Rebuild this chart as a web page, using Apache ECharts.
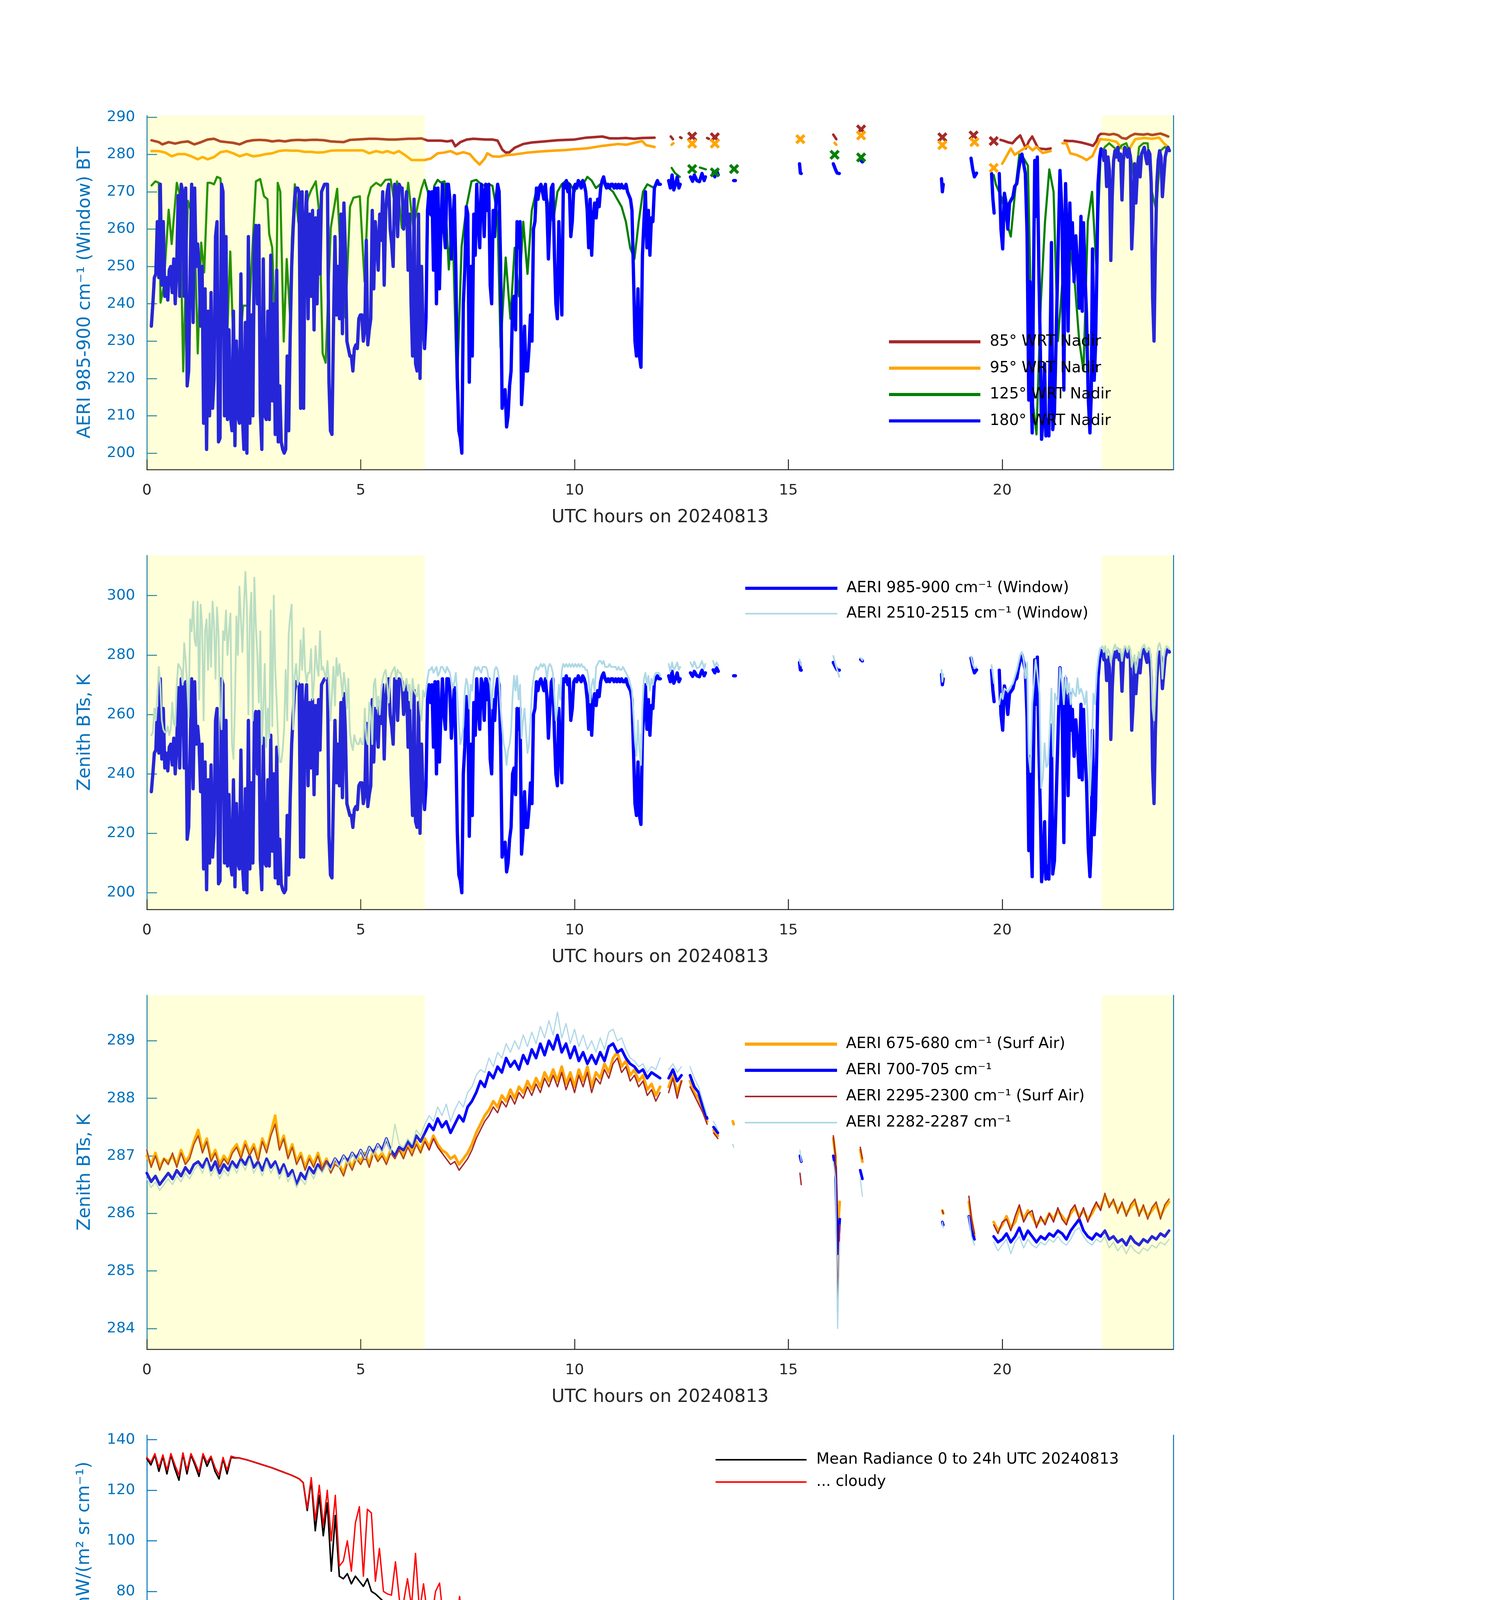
<!DOCTYPE html>
<html><head><meta charset="utf-8">
<script src="https://cdn.jsdelivr.net/npm/echarts@6/dist/echarts.min.js"></script>
<style>html,body{margin:0;padding:0;background:#fff}#c{width:3825px;height:6000px}</style>
</head><body><div id="c"></div>
<script>
// ===================== DATA =====================
// Shaded (night) time ranges, UTC hours
const shadeRanges = [[0, 6.5], [22.33, 24]];

// ---- Panel 1 & 2 : AERI 985-900 cm-1 window BT (180 deg WRT nadir) ----
// regularly sampled block 0.105 h .. 12.02 h
const win985T0 = 0.105, win985Dt = 0.0349;
const win985 = [
234,240,247,248,262,247,272,245,262,242,247,241,249,250,243,252,240,250,269,242,272,270,242,271,
218,222,248,272,235,271,250,256,250,234,250,208,244,201,238,210,243,212,220,258,262,203,204,272,
270,210,258,209,233,210,206,238,202,230,210,208,248,210,201,235,200,258,208,237,210,258,261,240,
261,211,201,252,210,209,238,209,253,214,240,205,249,203,218,203,201,200,201,226,206,231,250,260,
268,271,271,270,212,270,212,262,270,236,264,242,265,233,263,240,265,248,270,271,272,272,272,219,
206,205,233,258,237,250,236,264,232,267,254,230,228,226,226,222,228,229,228,236,237,237,230,233,
257,229,233,236,265,244,262,257,249,264,257,270,245,265,270,272,260,256,250,272,271,258,272,271,
271,260,265,270,249,264,240,226,268,224,222,264,220,250,234,228,236,265,270,264,270,249,271,240,
271,244,260,272,260,255,272,272,268,252,262,269,249,220,206,204,200,240,249,266,264,219,250,226,
264,253,272,262,255,272,270,258,272,265,272,245,240,265,258,268,272,270,250,212,216,217,207,210,
218,222,240,242,233,262,255,262,213,220,234,222,222,228,237,230,260,262,271,268,271,272,270,268,
272,266,252,262,271,272,254,240,236,262,248,237,272,271,273,270,272,258,262,271,272,271,273,272,
271,273,272,270,265,255,268,253,263,267,263,268,266,271,273,274,272,271,272,271,272,272,271,272,
271,272,271,272,271,271,272,270,269,268,265,248,230,226,244,226,223,253,262,270,255,265,253,263,
262,271,272,273,272,272];
// irregular afternoon pieces [hour, BT] (null = gap)
const win985Late = [
[12.20,273],[12.24,271],[12.28,274.5],[12.32,270.5],[12.36,272],[12.40,274],[12.44,271],[12.47,272],[12.55,null],
[12.71,274],[12.76,272.8],[12.80,274.5],[12.86,273],[12.92,272.7],[12.98,274.9],[13.03,273],[13.06,274],[13.15,null],
[13.24,275],[13.28,274],[13.32,275.7],[13.36,274.5],[13.5,null],
[13.72,273],[13.76,273],[14.5,null],
[15.26,277.5],[15.28,275],[15.30,274.9],[15.7,null],
[16.05,277.5],[16.10,276],[16.14,275],[16.19,274.9],[16.4,null],
[16.69,278.5],[16.73,278],[17.5,null],
[18.58,273.5],[18.60,270],[18.62,272],[19.0,null],
[19.27,279],[19.31,276],[19.35,274],[19.40,275],[19.6,null],
[19.75,274.9],[19.78,268.3],[19.81,264.3],[19.87,null],
[19.93,274.9],[19.97,260],[20.01,254.7],[20.05,269.6],[20.09,267],[20.13,260],[20.17,267],[20.25,268.7],[20.29,271.4],[20.34,272.2],
[20.38,275.7],[20.42,278.4],[20.46,280.1],[20.50,277.5],[20.54,274.9],[20.58,259],[20.62,214.2],[20.65,245.9],[20.68,214.2],[20.70,205.4],
[20.73,245.9],[20.76,278.4],[20.79,263.4],[20.82,279.3],[20.86,245.9],[20.89,228.3],[20.92,203.7],[20.96,210.7],[20.99,223.9],[21.02,204.6],
[21.05,209],[21.09,204.6],[21.12,228.3],[21.15,256.4],[21.18,206.3],[21.22,210.7],[21.31,256.4],[21.35,275.7],[21.40,263.4],[21.44,216.9],
[21.48,272.2],[21.52,254.7],[21.54,232.7],[21.58,267],[21.61,254.7],[21.64,261.7],[21.68,245.9],[21.72,258.2],[21.76,250.3],[21.80,238.8],
[21.84,263.4],[21.87,238],[21.90,261.7],[21.93,249.4],[21.97,237.1],[22.01,215.1],[22.05,205.4],[22.08,215.1],[22.11,254.7],[22.15,219.5],
[22.18,228.3],[22.21,247.6],[22.24,272.2],[22.28,279.3]];
// regularly sampled evening block 22.31 h .. 23.91 h
const win985EndT0 = 22.31, win985EndDt = 0.0326;
const win985End = [281.5,281,278.4,281,271.4,279.3,275.7,251.6,268.7,278.4,281,279.3,281.9,278.4,280.1,267.8,278.4,281.9,281,279.3,
281.5,279.3,254.7,263.4,277.5,267,274.9,279.3,274,280.1,281,281.9,279.3,277.5,281,280.1,272.2,241.5,230,254.7,
272.2,278.4,281,279.3,268.7,274,279.3,281,281.9,281];

// ---- Panel 2 : AERI 2510-2515 cm-1 window BT ----
const win2510 = [
253,254,262,258,266,276,270,258,255,254,254,256,253,255,264,257,256,270,277,276,275,270,284,278,
270,259,292,288,298,285,283,298,265,297,290,258,288,292,275,294,276,298,290,272,296,287,262,255,
288,285,295,280,288,294,250,245,263,293,280,303,292,281,296,308,296,260,292,301,258,306,290,280,
264,288,250,262,277,249,262,252,295,256,300,275,264,250,244,244,248,256,275,258,287,293,297,255,
273,277,270,272,285,275,289,275,271,274,274,282,265,271,283,276,273,288,275,276,274,272,278,270,
258,267,276,263,279,273,277,272,266,274,270,262,272,254,250,248,253,251,250,250,252,250,250,262,
252,250,264,262,250,270,272,262,266,260,268,272,274,275,270,264,272,274,275,276,272,275,274,274,
272,268,270,272,268,270,262,272,268,267,266,270,262,258,268,266,268,272,275,275,276,274,275,276,
273,274,276,276,275,274,276,275,274,271,269,271,274,266,257,250,252,256,268,272,270,262,270,268,
274,276,275,276,275,274,276,276,276,275,272,270,262,270,275,276,275,272,262,256,250,248,243,248,
250,254,266,273,268,273,265,270,252,258,262,254,247,250,258,268,272,275,276,275,276,277,276,277,
276,272,276,277,276,274,266,258,262,270,265,275,277,276,277,276,277,276,277,276,277,276,277,276,
277,276,276,275,275,272,264,270,272,268,276,277,278,278,277,278,276,276,276,277,276,276,276,276,
275,276,275,275,276,275,274,273,272,270,268,260,251,246,258,248,243,262,272,274,270,273,268,272,
270,273,274,274,274,273];
const win2510Late = [
[12.20,277],[12.24,274.5],[12.28,277.5],[12.32,275],[12.36,276],[12.40,277.5],[12.44,275],[12.47,276],[12.55,null],
[12.71,277.5],[12.76,276],[12.80,277.8],[12.86,275.5],[12.92,276],[12.98,278],[13.03,275.5],[13.06,277],[13.15,null],
[13.24,278],[13.28,276],[13.32,277.5],[13.36,276.5],[13.5,null],
[15.26,278.5],[15.28,277],[15.30,276.5],[15.7,null],
[16.05,279.7],[16.10,277],[16.14,275],[16.19,272.7],[16.4,null],
[16.69,279],[16.73,278.2],[17.5,null],
[18.58,275],[18.60,271],[18.62,273.5],[19.0,null],
[19.27,279.5],[19.31,277],[19.35,275.5],[19.40,276],[19.6,null],
[19.75,276.6],[19.81,270.5],[19.87,null],
[19.93,263.4],[19.97,267],[20.01,265.2],[20.05,268.7],[20.13,267.8],[20.25,270.5],[20.34,274.9],[20.42,280.1],[20.46,281],[20.50,278.4],
[20.54,272.2],[20.58,277.5],[20.62,245.9],[20.66,240.6],[20.70,263.4],[20.74,270.5],[20.78,278.4],[20.82,274],[20.87,267],[20.91,235.3],
[20.95,238.8],[20.99,250.3],[21.03,242.3],[21.07,243.2],[21.11,254.7],[21.15,268.7],[21.19,245.9],[21.23,267],[21.31,263.4],[21.35,275.7],
[21.40,270.5],[21.44,263.4],[21.48,273.1],[21.52,267],[21.56,270.5],[21.60,263.4],[21.64,268.7],[21.68,267],[21.72,266.1],[21.76,272.2],
[21.80,267],[21.84,268.7],[21.88,267],[21.93,263.4],[21.97,267.8],[22.01,254.7],[22.05,232.7],[22.09,245.9],[22.13,267],[22.17,263.4],
[22.21,274],[22.25,279.3],[22.29,282.3]];
const win2510End = [282.3,283,281,283,279,282,281,277.5,280,282,283.5,282,282.5,281,282,278,281,283,282.5,281,
283,282,276,278,280,274,277,281,279,282,283,283.5,282,281,282.5,282,278,262,258,268,
279,283,284,282,272,279,282,283,282.5,282];

// ---- Panel 1 : other view angles [hour, BT] ----
const bt85 = [
[0.11,283.8],[0.28,283.3],[0.36,282.7],[0.51,283.3],[0.66,282.9],[0.81,283.3],[0.96,283.5],[1.11,282.7],[1.27,283.3],[1.42,284.0],
[1.57,284.2],[1.72,283.5],[1.87,283.3],[2.02,283.1],[2.17,282.7],[2.33,283.5],[2.48,283.8],[2.63,283.9],[2.78,283.8],[2.93,283.5],
[3.08,283.7],[3.23,283.5],[3.39,283.8],[3.54,283.9],[3.69,283.8],[3.84,283.9],[3.99,283.9],[4.14,283.8],[4.30,283.5],[4.45,283.4],
[4.60,283.3],[4.75,283.9],[4.90,284.0],[5.05,284.1],[5.20,284.2],[5.36,284.2],[5.51,284.1],[5.66,284.0],[5.81,284.0],[5.96,284.1],
[6.11,284.2],[6.27,284.2],[6.42,284.3],[6.57,283.7],[6.72,283.7],[6.87,283.7],[7.02,283.5],[7.14,283.7],[7.21,282.2],[7.33,283.3],
[7.48,284.0],[7.63,284.2],[7.78,284.1],[7.93,284.0],[8.08,284.0],[8.20,283.7],[8.31,281.3],[8.39,280.5],[8.48,280.6],[8.6,281.8],
[8.8,282.8],[9.0,283.2],[9.3,283.5],[9.6,283.8],[10.0,284.0],[10.27,284.5],[10.65,284.8],[10.83,284.3],[11.02,284.3],[11.2,284.4],
[11.39,284.2],[11.58,284.4],[11.87,284.5],[12.0,null],
[12.25,284.8],[12.30,284.1],[12.38,null],[12.47,284.6],[12.50,284.4],[12.6,null],[12.75,284.8],[12.9,null],[13.1,284.4],[13.14,284.2],[13.2,null],
[13.28,284.6],[13.4,null],[16.05,285.3],[16.12,284.1],[16.3,null],[16.70,286.7],[16.9,null],[18.6,284.6],[18.9,null],[19.33,285.1],[19.5,null],
[19.8,283.6],[19.9,null],
[19.96,283.9],[20.05,283.6],[20.15,283.2],[20.24,283.0],[20.33,284.2],[20.42,285.1],[20.5,283],[20.55,281.6],[20.62,283.5],[20.7,284.8],
[20.78,283],[20.84,281.6],[20.93,281.5],[21.02,281.4],[21.13,281.6],[21.3,null],
[21.46,283.7],[21.55,283.6],[21.65,283.6],[21.75,283.4],[21.85,283.2],[21.95,282.9],[22.05,282.6],[22.12,282.3],[22.2,283.5],[22.25,285],
[22.3,285.5],[22.4,285.5],[22.5,285.3],[22.6,285.5],[22.7,285.2],[22.8,284.4],[22.9,284.2],[23.0,285],[23.1,285.5],[23.2,285.4],
[23.3,285.3],[23.4,285.5],[23.5,285.2],[23.6,285.4],[23.7,285.6],[23.8,285.2],[23.88,284.8]];
const bt95 = [
[0.11,280.9],[0.28,280.9],[0.43,280.5],[0.58,279.5],[0.73,280.1],[0.89,280.1],[1.04,279.5],[1.19,278.7],[1.30,279.3],[1.42,278.7],
[1.57,279.3],[1.72,280.6],[1.87,280.9],[2.02,280.3],[2.17,279.5],[2.33,280.1],[2.48,279.5],[2.63,279.7],[2.78,280.1],[2.93,280.3],
[3.08,280.9],[3.23,281.1],[3.39,281.0],[3.54,281.0],[3.69,280.7],[3.84,280.7],[3.99,280.5],[4.14,280.6],[4.30,281.0],[4.45,281.1],
[4.60,281.1],[4.75,281.1],[4.90,281.1],[5.05,281.1],[5.20,280.3],[5.36,280.9],[5.51,280.5],[5.62,280.9],[5.77,280.3],[5.89,280.9],
[6.04,279.8],[6.19,278.5],[6.34,278.5],[6.49,278.5],[6.64,278.9],[6.80,280.3],[6.95,280.5],[7.10,280.9],[7.25,280.1],[7.40,280.6],
[7.55,280.1],[7.67,278.5],[7.78,277.3],[7.90,278.9],[7.96,280.3],[8.08,279.5],[8.24,279.4],[8.39,279.8],[8.6,280.0],[8.9,280.5],
[9.2,280.8],[9.5,281.0],[9.8,281.2],[10.0,281.4],[10.27,281.6],[10.65,282.3],[11.02,282.8],[11.21,282.6],[11.39,283.1],[11.58,283.6],
[11.67,282.5],[11.87,282.0],[12.0,null],
[12.27,282.6],[12.31,283.0],[12.38,null],[12.75,282.9],[12.9,null],[13.28,282.9],[13.4,null],[15.28,284.1],[15.5,null],
[16.08,283.1],[16.12,282.6],[16.3,null],[16.70,285.1],[16.9,null],[18.6,282.5],[18.7,null],[19.35,283.3],[19.5,null],[19.8,276.4],[19.9,null],
[20.0,277.5],[20.2,281.6],[20.29,279.9],[20.47,281.3],[20.6,282.3],[20.71,281.1],[20.8,282.0],[20.94,280.4],[21.13,280.9],[21.3,null],
[21.41,283.0],[21.5,283.0],[21.59,280.3],[21.73,279.9],[21.87,279.2],[21.97,278.5],[22.11,279.6],[22.29,284.1],[22.48,283.9],[22.67,283.4],
[22.8,281.6],[22.96,281.3],[23.11,284.1],[23.32,284.4],[23.5,284.2],[23.67,284.5],[23.78,283.0],[23.86,282.2]];
const bt125 = [
[0.11,271.7],[0.20,272.8],[0.28,272.4],[0.32,240.3],[0.39,244.3],[0.51,265.2],[0.58,256.0],[0.70,272.4],[0.77,269.2],[0.85,221.9],
[0.96,267.6],[1.11,262],[1.19,226.7],[1.27,256.4],[1.34,248.4],[1.42,272.4],[1.49,272.4],[1.57,272],[1.64,274],[1.72,273.6],
[1.80,262],[1.87,228.3],[1.95,254],[2.02,229.9],[2.14,224.2],[2.25,239.5],[2.40,239.5],[2.55,272.8],[2.65,273.4],[2.74,268.8],
[2.82,268],[2.86,258.7],[2.93,255.1],[3.01,229.9],[3.06,272.4],[3.12,270],[3.20,229.9],[3.27,252],[3.35,236.3],[3.39,257.5],
[3.46,272],[3.54,262],[3.61,258.7],[3.77,268.4],[3.84,270.4],[3.95,272.8],[4.03,264.4],[4.11,226.7],[4.18,224.2],[4.30,260.3],
[4.45,270.8],[4.52,255.5],[4.64,236.3],[4.75,266],[4.83,268.4],[4.98,268.8],[5.09,246],[5.17,268.4],[5.24,271.2],[5.36,272.4],
[5.47,271.6],[5.58,273.2],[5.70,273.3],[5.77,268.4],[5.85,272.8],[5.96,260.3],[6.04,264.4],[6.11,272.4],[6.23,260.3],[6.34,266.8],
[6.42,270.8],[6.49,273.2],[6.57,270],[6.64,263.6],[6.72,271.6],[6.80,273.2],[6.87,272.5],[6.96,272.8],[7.06,249.2],[7.14,265.2],
[7.25,217.1],[7.36,255.5],[7.48,266.4],[7.59,272.8],[7.70,273.2],[7.78,272.4],[7.89,271.6],[8.01,272],[8.08,271.6],[8.20,263.6],
[8.27,228.3],[8.39,252.4],[8.5,236],[8.6,255],[8.7,242],[8.8,262],[8.9,248],[9.0,265],[9.1,270],[9.2,272],
[9.3,271],[9.4,266],[9.5,262],[9.6,270],[9.7,272],[9.8,273],[9.9,272],[10.0,270],[10.1,273],[10.2,272],
[10.3,274],[10.4,273],[10.5,271],[10.6,272],[10.7,273],[10.8,271],[10.9,270],[11.0,268],[11.1,266],[11.2,262],
[11.3,255],[11.4,252],[11.5,262],[11.6,270],[11.7,272],[11.87,271],[12.0,null],
[12.27,276.4],[12.35,275],[12.46,274],[12.55,null],[12.75,276.1],[12.85,null],[12.93,276.5],[13.07,276],[13.15,null],[13.28,275.2],[13.4,null],
[13.73,276.1],[13.9,null],[16.08,279.9],[16.3,null],[16.7,279.2],[16.9,null],
[19.8,274.5],[19.85,272],[20.0,268],[20.1,262],[20.2,258],[20.3,270],[20.4,280],[20.5,279],[20.6,277],[20.65,250],
[20.7,215],[20.8,205],[20.9,240],[21.0,262],[21.1,276],[21.2,270],[21.3,230],[21.4,245],[21.5,248],[21.6,254],
[21.7,245],[21.8,230],[21.9,222],[22.0,262],[22.1,270],[22.2,250],[22.3,280],[22.4,282],[22.5,283],[22.6,282],
[22.7,281],[22.8,282.5],[22.9,283],[23.0,280],[23.1,272],[23.2,282],[23.3,283],[23.4,283],[23.5,270],[23.6,265],
[23.7,281],[23.8,282],[23.88,281]];

// ---- Panel 3 : surface-air channels, 0.1 h samples 0..12 h and 19.8..23.9 h ----
const p3Orange = [
287.0,286.85,287.05,286.8,286.95,286.9,287.0,286.85,287.1,286.9,
287.0,287.25,287.45,287.1,287.3,286.95,287.1,286.85,287.0,286.9,
287.1,287.2,287.0,287.25,287.05,287.2,286.95,287.3,287.1,287.4,
287.7,287.15,287.35,287.0,287.2,286.9,287.05,286.8,287.0,286.85,
287.05,286.8,286.95,286.75,286.9,286.85,286.7,286.95,286.8,287.0,
286.9,287.05,286.85,287.1,286.95,287.05,286.9,287.1,287.0,287.15,
287.0,287.2,287.05,287.25,287.1,287.3,287.15,287.35,287.2,287.1,
287.05,286.95,287.0,286.85,286.95,287.05,287.2,287.4,287.55,287.7,
287.8,287.95,287.85,288.05,287.95,288.15,288.0,288.2,288.1,288.3,
288.15,288.35,288.2,288.45,288.3,288.5,288.3,288.55,288.25,288.45,
288.2,288.5,288.3,288.55,288.2,288.45,288.35,288.6,288.45,288.7,
288.8,288.55,288.65,288.4,288.5,288.3,288.4,288.15,288.25,288.05,
288.2];
const p3Blue = [
286.7,286.55,286.65,286.5,286.6,286.7,286.6,286.75,286.65,286.8,
286.7,286.85,286.9,286.8,286.95,286.75,286.9,286.7,286.85,286.75,
286.9,286.8,286.95,286.85,287.0,286.8,286.9,286.75,286.95,286.8,
286.9,286.7,286.85,286.65,286.75,286.5,286.7,286.6,286.8,286.7,
286.85,286.75,286.9,286.8,286.95,286.85,287.0,286.9,287.05,286.95,
287.1,286.95,287.15,287.05,287.2,287.1,287.3,287.1,287.0,287.15,
287.1,287.25,287.15,287.35,287.25,287.4,287.55,287.45,287.65,287.5,
287.6,287.4,287.55,287.7,287.6,287.85,287.95,288.1,288.3,288.2,
288.45,288.35,288.55,288.45,288.7,288.55,288.65,288.5,288.75,288.6,
288.85,288.7,288.95,288.75,289.0,288.85,289.1,288.8,288.95,288.7,
288.9,288.65,288.8,288.6,288.75,288.6,288.8,288.65,288.9,288.95,
288.8,288.85,288.7,288.6,288.55,288.45,288.5,288.35,288.45,288.4,
288.35];
const p3Brown = [
287.1,286.8,287.0,286.75,286.95,286.85,287.05,286.8,287.05,286.85,
286.95,287.2,287.35,287.05,287.25,286.9,287.05,286.8,286.95,286.85,
287.05,287.15,286.95,287.2,287.0,287.15,286.9,287.25,287.05,287.35,
287.55,287.1,287.3,286.95,287.15,286.85,287.0,286.75,286.95,286.8,
287.0,286.75,286.9,286.7,286.85,286.8,286.65,286.9,286.75,286.95,
286.85,287.0,286.8,287.05,286.9,287.0,286.85,287.05,286.95,287.1,
286.95,287.15,287.0,287.2,287.05,287.25,287.1,287.3,287.15,287.05,
286.95,286.85,286.9,286.75,286.85,286.95,287.1,287.3,287.45,287.6,
287.7,287.85,287.75,287.95,287.85,288.05,287.9,288.1,288.0,288.2,
288.05,288.25,288.1,288.35,288.2,288.4,288.2,288.45,288.15,288.35,
288.1,288.4,288.2,288.45,288.1,288.35,288.25,288.5,288.35,288.6,
288.7,288.45,288.55,288.3,288.4,288.2,288.3,288.05,288.15,287.95,
288.1];
const p3LB = [
286.6,286.45,286.55,286.4,286.5,286.6,286.5,286.65,286.55,286.7,
286.6,286.75,286.85,286.7,286.9,286.65,286.8,286.6,286.75,286.65,
286.85,286.7,286.9,286.75,286.95,286.7,286.85,286.65,286.9,286.7,
286.85,286.6,286.8,286.55,286.7,286.45,286.6,286.5,286.75,286.6,
286.8,286.7,286.85,286.75,286.95,286.8,287.0,286.85,287.05,286.9,
287.1,286.95,287.15,287.0,287.2,287.05,287.3,287.05,287.55,287.2,
287.15,287.3,287.2,287.45,287.35,287.55,287.7,287.6,287.85,287.7,
287.9,287.6,287.8,287.95,287.85,288.1,288.2,288.4,288.5,288.45,
288.7,288.55,288.8,288.7,288.95,288.8,289.0,288.85,289.1,288.9,
289.15,288.95,289.25,289.05,289.35,289.1,289.5,289.05,289.3,288.95,
289.2,288.9,289.1,288.85,289.0,288.8,289.05,288.85,289.15,289.2,
289.0,289.05,288.85,288.7,288.65,288.55,288.6,288.45,288.55,288.5,
288.7];
const p3OrangeLate = [[12.2,288.2],[12.3,288.4],[12.4,288.1],[12.5,288.3],[12.6,null],[12.7,288.3],[12.8,288.1],[12.9,288.0],[13.0,287.8],[13.1,287.6],[13.18,null],
[13.25,287.45],[13.35,287.35],[13.5,null],[13.7,287.6],[13.72,287.55],[14,null],[16.05,287.3],[16.1,287.0],[16.15,285.7],[16.2,286.2],[16.4,null],
[16.68,287.1],[16.73,286.9],[17,null],[18.6,286.05],[18.62,286.0],[18.9,null],[19.22,286.2],[19.28,285.9],[19.35,285.6],[19.5,null]];
const p3BlueLate = [[12.2,288.35],[12.3,288.5],[12.4,288.3],[12.5,288.4],[12.6,null],[12.7,288.4],[12.8,288.2],[12.9,288.1],[13.0,287.85],[13.1,287.65],[13.18,null],
[13.25,287.5],[13.35,287.4],[13.5,null],[15.27,287.0],[15.3,286.9],[15.5,null],[16.05,287.0],[16.1,286.8],[16.15,285.3],[16.2,285.9],[16.4,null],
[16.68,286.75],[16.73,286.6],[17,null],[18.6,285.85],[18.62,285.8],[18.9,null],[19.22,285.95],[19.28,285.7],[19.35,285.55],[19.5,null]];
const p3BrownLate = [[12.2,288.1],[12.3,288.35],[12.4,288.0],[12.5,288.3],[12.6,null],[12.7,288.2],[12.8,288.05],[12.9,287.9],[13.0,287.75],[13.1,287.55],[13.18,null],
[13.25,287.4],[13.35,287.3],[13.5,null],[15.27,286.7],[15.3,286.5],[15.5,null],[16.05,287.35],[16.1,287.0],[16.15,284.3],[16.2,285.8],[16.4,null],
[16.68,287.15],[16.73,286.95],[17,null],[18.6,286.05],[18.62,286.0],[18.9,null],[19.22,286.3],[19.28,285.9],[19.35,285.65],[19.5,null]];
const p3LBLate = [[12.2,288.5],[12.3,288.6],[12.4,288.45],[12.5,288.55],[12.6,null],[12.7,288.55],[12.8,288.35],[12.9,288.2],[13.0,287.95],[13.1,287.7],[13.18,null],
[13.25,287.6],[13.35,287.45],[13.5,null],[13.7,287.2],[13.72,287.15],[14,null],[15.27,287.1],[15.3,286.9],[15.5,null],[16.05,286.9],[16.1,286.6],[16.15,284.0],[16.2,285.5],[16.4,null],
[16.68,286.6],[16.73,286.3],[17,null],[18.6,285.85],[18.62,285.75],[18.9,null],[19.22,285.95],[19.28,285.6],[19.35,285.45],[19.5,null]];
const p3OrangeEnd = [285.85,285.7,285.8,285.95,285.75,285.85,286.1,285.9,286.05,285.95,285.8,285.9,285.85,286.0,285.9,286.05,285.95,285.85,286.0,286.1,
285.95,286.05,285.9,286.0,286.15,286.1,286.3,286.15,286.2,286.05,286.15,286.0,286.1,286.2,286.0,286.1,285.95,286.05,286.15,285.95,286.1,286.2];
const p3BlueEnd = [285.6,285.5,285.55,285.65,285.5,285.6,285.75,285.55,285.7,285.6,285.5,285.6,285.55,285.65,285.6,285.7,285.65,285.55,285.7,285.8,
285.9,285.7,285.6,285.55,285.65,285.6,285.7,285.55,285.6,285.5,285.55,285.45,285.6,285.5,285.45,285.55,285.5,285.6,285.55,285.65,285.6,285.7];
const p3BrownEnd = [285.8,285.65,285.85,285.9,285.7,285.95,286.15,285.85,286.0,286.05,285.75,285.95,285.8,286.0,285.85,286.1,285.9,285.8,286.05,286.15,
285.9,286.1,285.85,286.05,286.2,286.05,286.35,286.1,286.25,286.0,286.2,285.95,286.15,286.25,285.95,286.15,285.9,286.1,286.2,285.9,286.15,286.25];
const p3LBEnd = [285.5,285.35,285.45,285.55,285.3,285.5,285.6,285.4,285.55,285.45,285.4,285.5,285.45,285.55,285.5,285.6,285.5,285.45,285.55,285.7,
285.75,285.6,285.5,285.45,285.55,285.5,285.6,285.4,285.5,285.35,285.45,285.3,285.45,285.35,285.3,285.4,285.35,285.45,285.4,285.5,285.45,285.55];

// ---- Panel 4 : mean radiance 520-1800 cm-1 (5 cm-1 samples 520..1350, then [wn, R]) ----
const p4Wn0 = 520, p4Dwn = 5;
const p4Red = [
133,131,134.5,129,134,128,134.5,130,126,134.8,128,134.5,131,127,134.5,131,133.5,129,126,133,128,133.5,133,
132.8,132.4,132,131.5,131,130.5,130,129.5,129,128.4,127.8,127.2,126.6,126,125.3,124.5,123,
113,125,108,122,106,120,100,118,90,
92,100,88,107,113.5,86,112.5,111,
84,97,80,79,78.5,91.7,76.5,75.5,85,74,95,
72,83,70.5,69.5,80,83.3,68,67,66,65,78,63.5,71.6,62.5,62,61,60,59,68.6,57,56.5,55.5,55,60,52.5,52,51,50,49.5,48.5,
48,62.6,47.5,48,55,47.5,47,46,44.5,43,42,61,38.6,44,37.5,37,49,36.5,36,47,35.3,35,55,34.5,34,58,33.5,33,43,32.5,
46,32.2,32,52,31.9,53.6,31.5,31,38,30.8,48,30.7,29.5,48.5,29,28.5,40,45.6,30,34,43,38,42,33,40,32,40.9,31,38,36,
37.5,37,36.5,37.5,32,35,34,33.6,33.5];
const p4Black = [
132.5,130,134,127.5,133.5,126.5,134,128.5,124,134.5,126.5,134,130,125.5,134,129.5,133,127.5,124.5,132.5,126.5,133,132.8,
132.8,132.4,132,131.5,131,130.5,130,129.5,129,128.4,127.8,127.2,126.6,126,125.3,124.5,123,
112,124,104,118,102,115,88,110,86,
85,87,83,86,84,82,85,80,
79,77.5,76,75,74,73.5,72.5,71.5,70.5,70,69,
68,67.5,66.5,66,65,64.5,63.5,63,62,61,60.5,59.5,59,58,57.5,56.5,56,55,53.5,53,52,51.5,50.5,50,49,48,47,46.5,46,45.5,
45.5,45.8,45,45.3,45.5,45,44.5,42,40.3,42,40,38,36.4,37,36,35.5,35.5,35,34.5,34.5,34,33.5,33.5,33,33,32.5,32.5,32,31.9,31.5,
31,30.5,30,30,29.5,29,29,28.5,27.3,28,27.5,27,26.5,27,26,25,25.5,27,29,31,32,33,31,30,32,31,32,30,33,35,
36,36.5,36,37,30,34,34,33.6,33.5];
const p4RedTail = [[1360,32.5],[1370,32],[1380,31],[1390,30.2],[1400,29.5],[1410,28.7],[1418,28],[1419,36.4],[1420,28],[1430,27],
[1440,26],[1450,25.3],[1460,24.5],[1470,23.8],[1480,23],[1490,22.2],[1500,21.5],[1510,21],[1520,20.3],[1522,29],[1524,20.2],[1530,20],
[1538,19.5],[1539,27.3],[1541,19.4],[1550,19],[1558,18.5],[1560,26.2],[1562,18.4],[1570,18],[1580,17.3],[1590,16.8],[1600,16.2],[1610,15.7],
[1615,15.4],[1616,22.6],[1618,15.3],[1630,14.7],[1635,14.4],[1636,21.1],[1638,14.3],[1644,14],[1645,19.7],[1647,13.9],[1652,13.6],[1653,17.4],
[1655,13.5],[1665,13],[1674,12.6],[1675,17.4],[1677,12.5],[1690,11.9],[1696,11.6],[1697,17],[1699,11.5],[1700,17.4],[1702,11.4],[1710,11],
[1716,10.8],[1717,12.7],[1719,10.7],[1730,10.3],[1740,9.9],[1750,9.6],[1760,9.3],[1770,9],[1780,8.8],[1790,8.6],[1800,8.5]];
const p4BlackTail = [[1360,32.3],[1370,31.8],[1380,30.8],[1390,30],[1400,29.3],[1410,28.5],[1420,27.8],[1430,26.8],[1440,25.8],[1450,25.1],
[1460,24.3],[1470,23.6],[1480,22.8],[1490,22],[1500,21.3],[1510,20.8],[1520,20.1],[1530,19.8],[1540,19.3],[1550,18.8],[1560,18.3],[1570,17.8],
[1580,17.1],[1590,16.6],[1600,16],[1610,15.5],[1620,15.1],[1630,14.5],[1640,14.1],[1650,13.6],[1660,13.1],[1670,12.7],[1680,12.3],[1690,11.8],
[1700,11.3],[1710,10.9],[1720,10.6],[1730,10.2],[1740,9.8],[1750,9.5],[1760,9.2],[1770,8.9],[1780,8.7],[1790,8.5],[1800,8.4]];

// ---- Panel 5 : mean radiance 1800-3020 cm-1 [wn, R] ----
const p5Red = [[1800,8.5],[1805,8.3],[1810,8.2],[1815,8.0],[1820,7.9],[1825,7.75],[1830,7.6],[1835,7.45],[1840,7.3],[1845,7.15],[1850,7.0],
[1855,6.8],[1857,6.7],[1860,6.9],[1865,6.85],[1870,6.7],[1875,6.6],[1878,6.05],[1880,5.8],[1882,6.3],[1885,6.25],[1890,6.15],[1895,6.05],
[1900,5.1],[1903,5.75],[1907,5.85],[1910,5.7],[1915,5.55],[1920,5.65],[1925,5.55],[1930,5.45],[1933,4.3],[1936,5.35],[1940,4.2],[1943,4.8],
[1947,5.2],[1950,5.15],[1953,5.0],[1955,3.6],[1958,4.9],[1962,3.5],[1965,4.8],[1968,4.75],[1970,2.9],[1975,4.2],[1980,2.6],[1985,4.4],
[1990,4.4],[1995,4.3],[2000,2.9],[2005,3.7],[2010,2.3],[2015,3.8],[2020,4.0],[2025,2.4],[2030,3.9],[2035,1.85],[2040,3.0],[2045,3.6],
[2050,1.8],[2055,3.3],[2060,1.7],[2065,3.35],[2070,2.5],[2075,1.55],[2080,3.1],[2085,1.6],[2090,2.9],[2095,1.5],[2100,2.5],[2105,1.4],
[2110,2.2],[2115,1.3],[2120,2.7],[2125,1.25],[2130,1.9],[2135,1.2],[2140,2.3],[2145,1.15],[2150,2.0],[2155,1.15],[2160,1.85],[2165,1.1],
[2170,1.5],[2175,1.08],[2180,1.45],[2185,1.25],[2190,1.6],[2195,1.35],[2200,1.7],[2205,1.45],[2210,1.65],[2215,1.5],[2220,1.55],[2225,1.2],
[2230,1.55],[2235,1.7],[2240,1.78],[2245,1.72],[2250,1.72],[2260,1.66],[2280,1.55],[2300,1.44],[2320,1.34],[2340,1.24],[2355,1.18],[2358,1.28],
[2361,1.16],[2380,1.07],[2388,1.02],[2392,0.7],[2396,0.6],[2400,0.57],[2420,0.51],[2450,0.45],[2500,0.38],[2550,0.33],[2600,0.29],[2650,0.26],
[2700,0.22],[2750,0.19],[2800,0.16],[2850,0.13],[2900,0.11],[2950,0.09],[3000,0.08],[3020,0.07]];
const p5Black = [[1800,8.45],[1805,8.25],[1810,8.15],[1815,7.95],[1820,7.85],[1825,7.7],[1830,7.55],[1835,7.4],[1840,7.25],[1845,7.1],[1850,6.95],
[1855,6.75],[1857,6.65],[1860,6.85],[1865,6.8],[1870,6.65],[1875,6.55],[1878,6.0],[1880,5.75],[1882,6.25],[1885,6.2],[1890,6.1],[1895,6.0],
[1900,5.05],[1903,5.7],[1907,5.8],[1910,5.65],[1915,5.5],[1920,5.6],[1925,5.5],[1930,5.4],[1933,4.2],[1936,5.3],[1940,4.15],[1943,4.75],
[1947,5.15],[1950,5.1],[1953,4.95],[1955,3.5],[1958,4.85],[1962,3.45],[1965,4.75],[1968,4.7],[1970,2.8],[1975,4.15],[1980,2.5],[1985,4.35],
[1990,4.35],[1995,4.25],[2000,2.8],[2005,3.65],[2010,2.25],[2015,3.75],[2020,3.95],[2025,2.35],[2030,3.85],[2035,1.8],[2040,2.95],[2045,3.55],
[2050,1.72],[2055,3.25],[2060,1.65],[2065,3.3],[2070,2.45],[2075,1.48],[2080,3.05],[2085,1.52],[2090,2.85],[2095,1.42],[2100,2.45],[2105,1.33],
[2110,2.15],[2115,1.23],[2120,2.65],[2125,1.18],[2130,1.85],[2135,1.12],[2140,2.25],[2145,1.08],[2150,1.95],[2155,1.07],[2160,1.8],[2165,1.03],
[2170,1.45],[2175,1.02],[2180,1.4],[2185,1.2],[2190,1.55],[2195,1.3],[2200,1.65],[2205,1.4],[2210,1.6],[2215,1.45],[2220,1.5],[2225,1.18],
[2230,1.5],[2235,1.66],[2240,1.75],[2245,1.7],[2250,1.7],[2260,1.64],[2280,1.53],[2300,1.42],[2320,1.32],[2340,1.22],[2360,1.14],[2380,1.05],
[2388,1.0],[2392,0.68],[2396,0.58],[2400,0.55],[2420,0.49],[2450,0.43],[2500,0.36],[2550,0.31],[2600,0.27],[2650,0.245],[2700,0.21],[2750,0.18],
[2800,0.15],[2850,0.125],[2900,0.105],[2950,0.085],[3000,0.075],[3020,0.065]];

// Tick labels
const ticksHours = [0,5,10,15,20];
const ticksP1 = [200,210,220,230,240,250,260,270,280,290];
const ticksP2 = [200,220,240,260,280,300];
const ticksP3 = [284,285,286,287,288,289];
const ticksP4y = [20,40,60,80,100,120,140];
const ticksP4x = [600,800,1000,1200,1400,1600,1800];
const ticksP5y = [0,1,2,3,4,5,6,7,8];
const ticksP5x = [1800,2000,2200,2400,2600,2800,3000];

// ===================== BUILD =====================
const FONT = 'DejaVu Sans';
const AX = '#0072BD', DK = '#262626';
const C = {brown:'#a52a2a', orange:'#ffa500', green:'#008000', blue:'#0000ff', lblue:'#add8e6', black:'#000000', red:'#ff0000'};
const G = {left:376, width:2628, height:906, tops:[296,1422,2548,3674,4800]};
const XPATH = 'path://M0,5L5,0L12,7L19,0L24,5L17,12L24,19L19,24L12,17L5,24L0,19L7,12Z';

function gridPairs(t0, dt, vals){ return vals.map((v,i)=>[+(t0+i*dt).toFixed(4), v]); }
function pairs(arr){ return arr.map(p=>[p[0], p[1]==null ? '-' : p[1]]); }
function gapAt(t){ return [[t,'-']]; }
function isolated(data){
  return data.map((p,i)=>{
    if (p[1]==='-') return false;
    const prev = i===0 || data[i-1][1]==='-';
    const next = i===data.length-1 || data[i+1][1]==='-';
    return prev && next;
  });
}

const winData985 = gridPairs(win985T0, win985Dt, win985).concat(gapAt(12.1), pairs(win985Late), gridPairs(win985EndT0, win985EndDt, win985End));
const winData2510 = gridPairs(win985T0, win985Dt, win2510).concat(gapAt(12.1), pairs(win2510Late), gridPairs(win985EndT0, win985EndDt, win2510End));
function p3(main, late, end){ return gridPairs(0, 0.1, main).concat(gapAt(12.1), pairs(late), gridPairs(19.8, 0.1, end)); }
const p4RedData = gridPairs(p4Wn0, p4Dwn, p4Red).concat(p4RedTail);
const p4BlackData = gridPairs(p4Wn0, p4Dwn, p4Black).concat(p4BlackTail);

const yLim = [[195.6,290.4],[194.4,313.5],[283.64,289.79],[1.8,141.8],[-0.37,8.91]];
const xLim = [[0,24],[0,24],[0,24],[520,1800],[1800,3020]];

const grid = G.tops.map(t=>({left:G.left, top:t, width:G.width, height:G.height, show:false}));

function xAx(gi, ticks, name){
  return {gridIndex:gi, type:'value', min:xLim[gi][0], max:xLim[gi][1], name, nameLocation:'middle', nameGap:(gi<3?100:104),
    nameTextStyle:{fontFamily:FONT, fontSize:46, color:DK},
    axisLine:{show:true, onZero:false, lineStyle:{color:DK, width:2.5}},
    axisTick:{show:true, inside:true, length:26, customValues:ticks, lineStyle:{color:DK, width:2.5}},
    axisLabel:{show:true, customValues:ticks, margin:35, fontFamily:FONT, fontSize:38, color:DK, formatter:v=>String(v)},
    splitLine:{show:false}};
}
function yAx(gi, ticks, name, gap){
  return {gridIndex:gi, type:'value', position:'left', min:yLim[gi][0], max:yLim[gi][1], name, nameLocation:'middle', nameRotate:90, nameGap:gap,
    nameTextStyle:{fontFamily:FONT, fontSize:46, color:AX},
    axisLine:{show:true, onZero:false, lineStyle:{color:AX, width:2.5}},
    axisTick:{show:true, inside:true, length:26, customValues:ticks, lineStyle:{color:AX, width:2.5}},
    axisLabel:{show:true, customValues:ticks, margin:30, fontFamily:FONT, fontSize:38, color:AX, formatter:v=>String(v)},
    splitLine:{show:false}};
}
function yAxR(gi){
  return {gridIndex:gi, type:'value', position:'right', min:yLim[gi][0], max:yLim[gi][1],
    axisLine:{show:true, onZero:false, lineStyle:{color:AX, width:2.5}}, axisTick:{show:false}, axisLabel:{show:false}, splitLine:{show:false}};
}

const UTC = 'UTC hours on 20240813', WN = 'Wavenumber, cm\u207B\u00B9';
const xAxis = [xAx(0,ticksHours,UTC), xAx(1,ticksHours,UTC), xAx(2,ticksHours,UTC), xAx(3,ticksP4x,WN), xAx(4,ticksP5x,WN)];
const RAD = 'Mean Radiance, mW/(m\u00B2 sr cm\u207B\u00B9)';
const yAxis = [
  yAx(0,ticksP1,'AERI 985-900 cm\u207B\u00B9 (Window) BT',135), yAxR(0),
  yAx(1,ticksP2,'Zenith BTs, K',135), yAxR(1),
  yAx(2,ticksP3,'Zenith BTs, K',135), yAxR(2),
  yAx(3,ticksP4y,RAD,137), yAxR(3),
  yAx(4,ticksP5y,RAD,86), yAxR(4)];

function line(name, gi, data, color, width, marks){
  const s = {type:'line', name, xAxisIndex:gi, yAxisIndex:gi*2, data, showSymbol:false, symbol:'none', connectNulls:false,
    animation:false, silent:true, z:2, lineStyle:{color, width, join:'round', cap:'round'}, itemStyle:{color, borderWidth:0}};
  if (marks){
    const iso = isolated(data);
    s.symbol = XPATH; s.showSymbol = true; s.showAllSymbol = true;
    s.symbolSize = (v,p)=> iso[p.dataIndex] ? 26 : 0;
  }
  return s;
}
function shade(gi){
  return {type:'custom', xAxisIndex:gi, yAxisIndex:gi*2, z:10, silent:true, animation:false, data:shadeRanges,
    renderItem(params, api){
      const cs = params.coordSys;
      const a = api.coord([api.value(0), yLim[gi][0]])[0];
      const b = api.coord([api.value(1), yLim[gi][0]])[0];
      return {type:'rect', shape:{x:a, y:cs.y, width:b-a, height:cs.height}, style:{fill:'rgba(255,255,0,0.15)'}};
    }};
}

const N = {
  a85:'85\u00B0 WRT Nadir', a95:'95\u00B0 WRT Nadir', a125:'125\u00B0 WRT Nadir', a180:'180\u00B0 WRT Nadir',
  w985:'AERI 985-900 cm\u207B\u00B9 (Window)', w2510:'AERI 2510-2515 cm\u207B\u00B9 (Window)',
  s675:'AERI 675-680 cm\u207B\u00B9 (Surf Air)', s700:'AERI 700-705 cm\u207B\u00B9', s2295:'AERI 2295-2300 cm\u207B\u00B9 (Surf Air)', s2282:'AERI 2282-2287 cm\u207B\u00B9',
  mean:'Mean Radiance 0 to 24h UTC 20240813', cloudy:'... cloudy'};

const series = [
  line(N.a85, 0, pairs(bt85), C.brown, 6.5, true),
  line(N.a95, 0, pairs(bt95), C.orange, 6.5, true),
  line(N.a125, 0, pairs(bt125), C.green, 5.5, true),
  line(N.a180, 0, winData985, C.blue, 8.5, false),
  shade(0),
  line(N.w985, 1, winData985, C.blue, 8.5, false),
  line(N.w2510, 1, winData2510, C.lblue, 4.5, false),
  shade(1),
  line(N.s675, 2, p3(p3Orange,p3OrangeLate,p3OrangeEnd), C.orange, 7, false),
  line(N.s700, 2, p3(p3Blue,p3BlueLate,p3BlueEnd), C.blue, 7, false),
  line(N.s2295, 2, p3(p3Brown,p3BrownLate,p3BrownEnd), C.brown, 3.5, false),
  line(N.s2282, 2, p3(p3LB,p3LBLate,p3LBEnd), C.lblue, 3, false),
  shade(2),
  line(N.mean, 3, p4BlackData, C.black, 4, false),
  line(N.cloudy, 3, p4RedData, C.red, 3.5, false),
  line(N.mean, 4, p5Black, C.black, 4, false),
  line(N.cloudy, 4, p5Red, C.red, 3.5, false)
];

function icon(w, h){ return 'path://M0,0h'+w+'v'+h+'h-'+w+'z'; }
function legend(left, top, gap, w, items, textGap){
  return {show:true, orient:'vertical', left, top, itemWidth:w, itemHeight:40, itemGap:gap, selectedMode:false, z:20, padding:0,
    itemStyle:{borderWidth:0},
    textStyle:{fontFamily:FONT, fontSize:39, color:'#000', lineHeight:40, padding:[0,0,0,textGap]},
    data: items.map(it=>({name:it[0], icon:icon(w, it[1])}))};
}
const legends = [
  legend(2276, 855, 27.5, 234, [[N.a85,8],[N.a95,8],[N.a125,8],[N.a180,8]], 19),
  legend(1908, 1486, 25, 236, [[N.w985,8],[N.w2510,4]], 18),
  legend(1907, 2653, 27, 236, [[N.s675,8],[N.s700,8],[N.s2295,4],[N.s2282,4]], 18),
  legend(1832, 3717, 17, 233, [[N.mean,4],[N.cloudy,4]], 20),
  legend(1832, 4842, 16.5, 233, [[N.mean,4],[N.cloudy,4]], 20)
];

const chart = echarts.init(document.getElementById('c'), null, {renderer:'canvas'});
chart.setOption({
  backgroundColor:'#ffffff', animation:false,
  textStyle:{fontFamily:FONT},
  grid, xAxis, yAxis, legend:legends, series, tooltip:{show:false}
});
</script></body></html>
